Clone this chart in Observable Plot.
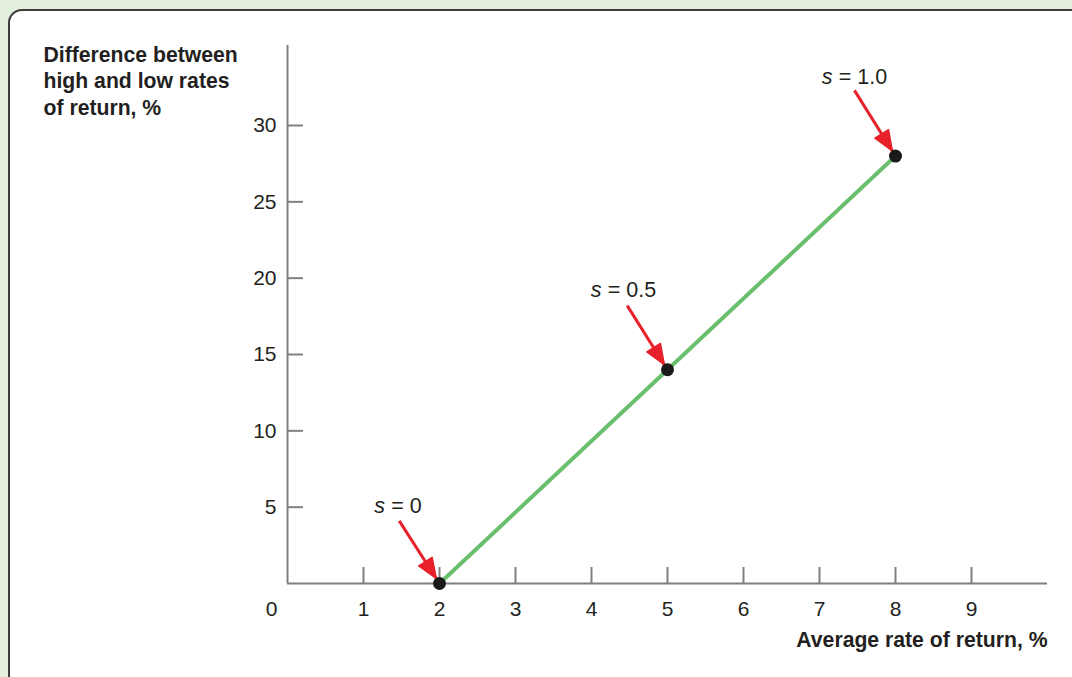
<!DOCTYPE html>
<html><head><meta charset="utf-8">
<script src="https://cdn.jsdelivr.net/npm/d3@7"></script>
<script src="https://cdn.jsdelivr.net/npm/@observablehq/plot@0.6"></script>
<style>
html,body{margin:0;padding:0;background:#e2f0dd;width:1072px;height:677px;overflow:hidden;}
#panel{position:absolute;left:8px;top:9px;width:1100px;height:720px;background:#fff;border:2px solid #3c3c3c;border-top-left-radius:14px;box-sizing:border-box;}
#chart{position:absolute;left:0;top:0;}
</style></head><body><div id="panel"></div><div id="chart"></div>
<script>
// Data
const avgReturn = [2, 5, 8];          // Average rate of return, %
const spread = [0, 14, 28];           // Difference between high and low rates, %
const sLabels = ["0", "0.5", "1.0"];  // s values
// annotation positions (data units)
const labelX = [1.14, 3.99, 7.03];
const labelY = [5.1, 19.2, 33.2];
const arrowX = [1.47, 4.47, 7.46];
const arrowY = [4.1, 18.2, 32.3];
const xTicks = [1, 2, 3, 4, 5, 6, 7, 8, 9];
const yTicks = [5, 10, 15, 20, 25, 30];
const xTitle = "Average rate of return, %";
const yTitle = "Difference between\nhigh and low rates\nof return, %";

const pts = avgReturn.map((x, i) => ({x, y: spread[i], s: sLabels[i], lx: labelX[i], ly: labelY[i], ax: arrowX[i], ay: arrowY[i]}));
const axisColor = "#808080";
const font = "'Liberation Sans', Arial, Helvetica, sans-serif";

const chart = Plot.plot({
  width: 1072, height: 677,
  marginLeft: 287, marginRight: 25, marginTop: 45, marginBottom: 94,
  x: {domain: [0, 10], label: null},
  y: {domain: [0, 35.24], label: null},
  style: {fontFamily: font, background: "transparent", color: "#231f20", overflow: "visible"},
  marks: [
    Plot.axisX({ticks: xTicks, tickSize: 16, dy: -16, text: null, label: null, stroke: axisColor, strokeWidth: 2}),
    Plot.axisX({ticks: xTicks, tickSize: 0, tickPadding: 18, fontSize: 21, label: null}),
    Plot.axisY({ticks: yTicks, tickSize: 16, dx: 16, text: null, label: null, stroke: axisColor, strokeWidth: 2}),
    Plot.axisY({ticks: yTicks, tickSize: 0, tickPadding: 11, fontSize: 21, label: null}),
    Plot.ruleX([0], {stroke: axisColor, strokeWidth: 2}),
    Plot.ruleY([0], {stroke: axisColor, strokeWidth: 2}),
    Plot.text([0], {x: d => d, y: () => 0, text: d => String(d), dx: -16, dy: 18, lineAnchor: "top", fontSize: 21}),
    Plot.line(pts, {x: "x", y: "y", stroke: "#6abf6e", strokeWidth: 4}),
    Plot.link(pts, {x1: "ax", y1: "ay", x2: "x", y2: "y", stroke: "#e8202a", strokeWidth: 3, markerEnd: "arrow"}),
    Plot.dot(pts, {x: "x", y: "y", r: 6.5, fill: "#1a1a1a"}),
    Plot.text(pts, {x: "lx", y: "ly", text: () => "s", fontStyle: "italic", textAnchor: "start", fontSize: 21.5}),
    Plot.text(pts, {x: "lx", y: "ly", text: d => "= " + d.s, textAnchor: "start", dx: 17, fontSize: 21.5}),
    Plot.text([yTitle], {frameAnchor: "top-left", textAnchor: "start", lineAnchor: "top", dx: -244, dy: -2, lineHeight: 1.24, fontWeight: "bold", fontSize: 21.2}),
    Plot.text([xTitle], {frameAnchor: "bottom-right", textAnchor: "end", lineAnchor: "top", dy: 48, fontWeight: "bold", fontSize: 21.2})
  ]
});

// filled arrowheads
chart.querySelectorAll("marker").forEach(m => {
  m.setAttribute("viewBox", "-30 -10 40 20");
  m.setAttribute("markerUnits", "userSpaceOnUse");
  m.setAttribute("markerWidth", "40");
  m.setAttribute("markerHeight", "20");
  m.setAttribute("refX", "0");
  m.setAttribute("refY", "0");
  m.setAttribute("overflow", "visible");
  const col = m.getAttribute("stroke") || "#e8202a";
  m.removeAttribute("stroke");
  m.setAttribute("fill", col);
  m.innerHTML = "";
  const p = document.createElementNS("http://www.w3.org/2000/svg", "path");
  p.setAttribute("d", "M-6,0L-26,-8L-26,8Z");
  p.setAttribute("fill", col);
  m.appendChild(p);
});

document.getElementById("chart").appendChild(chart);
</script></body></html>
